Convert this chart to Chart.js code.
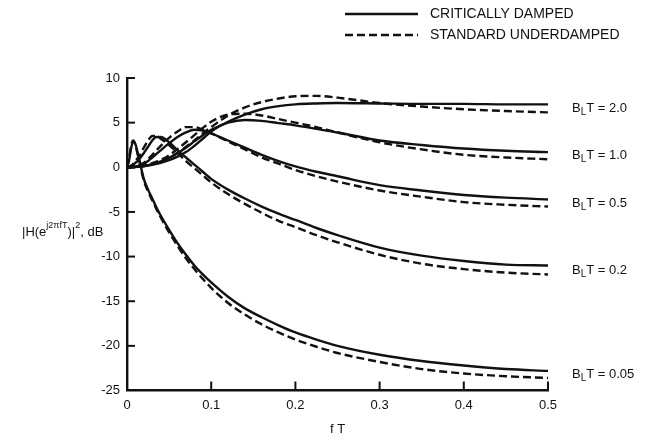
<!DOCTYPE html>
<html>
<head>
<meta charset="UTF-8">
<title>Loop filter response</title>
<script src="https://cdn.jsdelivr.net/npm/chart.js"></script>
<style>
  body { margin: 0; background: #fff; }
  #chart { display: block; }
</style>
</head>
<body>
<canvas id="chart" width="645" height="441"></canvas>
<script>
// normalized frequency grid (fT)
const fT = [0, 0.0025, 0.005, 0.0075, 0.01, 0.0125, 0.015, 0.02, 0.025, 0.03, 0.035, 0.04, 0.05, 0.06, 0.07, 0.08, 0.09, 0.1,
  0.12, 0.14, 0.16, 0.18, 0.2, 0.225, 0.25, 0.3, 0.35, 0.4, 0.45, 0.5];

// |H|^2 in dB, critically damped
const crit2   = [0, 0, 0.01, 0.02, 0.03, 0.05, 0.07, 0.12, 0.2, 0.28, 0.38, 0.5, 0.8, 1.2, 1.7, 2.4, 3.2, 4.0, 5.1, 5.9, 6.5, 6.85, 7.05, 7.15, 7.2, 7.15, 7.1, 7.1, 7.05, 7.05];
const crit1   = [0, 0, 0.01, 0.02, 0.04, 0.06, 0.09, 0.16, 0.25, 0.36, 0.5, 0.65, 1.05, 1.6, 2.2, 2.9, 3.6, 4.2, 5.0, 5.3, 5.2, 4.95, 4.7, 4.3, 3.9, 3.0, 2.5, 2.1, 1.85, 1.7];
const crit05  = [0, 0.01, 0.03, 0.06, 0.1, 0.15, 0.2, 0.4, 0.7, 1.1, 1.5, 1.9, 2.7, 3.4, 3.9, 4.2, 4.1, 3.8, 3.0, 2.2, 1.4, 0.7, 0.1, -0.5, -1.0, -2.0, -2.6, -3.1, -3.4, -3.6];
const crit02  = [0, 0.05, 0.15, 0.3, 0.5, 0.7, 0.95, 1.6, 2.3, 3.0, 3.4, 3.4, 2.8, 1.9, 1.1, 0.3, -0.5, -1.3, -2.5, -3.5, -4.4, -5.2, -5.9, -6.8, -7.6, -9.0, -9.9, -10.5, -10.9, -11.0];
const crit005 = [0, 0.8, 2.2, 2.9, 2.6, 1.7, 0.7, -1.3, -2.5, -3.5, -4.5, -5.4, -7.0, -8.5, -9.8, -11.0, -12.0, -12.9, -14.5, -15.8, -16.8, -17.7, -18.5, -19.3, -20.0, -21.0, -21.7, -22.2, -22.6, -22.8];

// |H|^2 in dB, standard underdamped
const under2   = [0, 0, 0.01, 0.02, 0.04, 0.06, 0.09, 0.15, 0.25, 0.36, 0.48, 0.62, 1.0, 1.6, 2.3, 3.0, 3.8, 4.5, 5.8, 6.7, 7.3, 7.7, 7.95, 8.0, 7.8, 7.2, 6.8, 6.5, 6.3, 6.15];
const under1   = [0, 0, 0.01, 0.03, 0.05, 0.08, 0.11, 0.2, 0.32, 0.46, 0.63, 0.83, 1.35, 2.05, 2.8, 3.6, 4.4, 5.1, 5.9, 6.0, 5.8, 5.4, 5.0, 4.5, 3.9, 2.8, 2.0, 1.4, 1.1, 0.9];
const under05  = [0, 0.01, 0.04, 0.08, 0.14, 0.2, 0.28, 0.5, 0.9, 1.4, 1.9, 2.4, 3.3, 4.0, 4.5, 4.5, 4.2, 3.8, 2.9, 2.0, 1.1, 0.4, -0.3, -1.0, -1.6, -2.6, -3.3, -3.9, -4.2, -4.4];
const under02  = [0, 0.07, 0.2, 0.4, 0.7, 1.0, 1.3, 2.2, 3.0, 3.5, 3.5, 3.2, 2.5, 1.6, 0.7, -0.1, -0.9, -1.7, -3.0, -4.1, -5.1, -6.0, -6.7, -7.6, -8.4, -9.8, -10.8, -11.4, -11.8, -12.0];
const under005 = [0, 1.0, 2.5, 3.0, 2.5, 1.5, 0.5, -1.5, -2.7, -3.7, -4.7, -5.6, -7.3, -8.8, -10.2, -11.4, -12.5, -13.5, -15.2, -16.5, -17.6, -18.5, -19.3, -20.1, -20.8, -21.8, -22.6, -23.1, -23.4, -23.6];

const loopLabels = ['2.0', '1.0', '0.5', '0.2', '0.05'];
const critical = [crit2, crit1, crit05, crit02, crit005];
const underdamped = [under2, under1, under05, under02, under005];

const xTicks = [0, 0.1, 0.2, 0.3, 0.4, 0.5];
const yTicks = [10, 5, 0, -5, -10, -15, -20, -25];

const ink = '#111';
const font = '"Liberation Sans", Arial, Helvetica, sans-serif';

function toPoints(arr) {
  return fT.map((x, i) => ({ x, y: arr[i] }));
}

const datasets = [];
critical.forEach((arr, i) => datasets.push({
  label: 'critical ' + loopLabels[i], data: toPoints(arr),
  borderColor: ink, borderWidth: 2.4, pointRadius: 0, cubicInterpolationMode: 'monotone'
}));
underdamped.forEach((arr, i) => datasets.push({
  label: 'under ' + loopLabels[i], data: toPoints(arr),
  borderColor: ink, borderWidth: 2.4, borderDash: [8, 4], pointRadius: 0, cubicInterpolationMode: 'monotone'
}));

function line(ctx, x1, y1, x2, y2) {
  ctx.beginPath(); ctx.moveTo(x1, y1); ctx.lineTo(x2, y2); ctx.stroke();
}

// text runs: [text, size, dy]
function runs(ctx, x, y, parts) {
  parts.forEach(([t, size, dy]) => {
    ctx.font = size + 'px ' + font;
    ctx.fillText(t, x, y + dy);
    x += ctx.measureText(t).width;
  });
}

const overlay = {
  id: 'overlay',
  afterDraw(chart) {
    const { ctx, chartArea: a, scales: { x, y } } = chart;
    ctx.save();
    ctx.strokeStyle = ink;
    ctx.fillStyle = ink;
    ctx.lineWidth = 2;

    // inward ticks
    yTicks.forEach(v => {
      const py = y.getPixelForValue(v);
      if (v !== -25) line(ctx, a.left, py, a.left + 8, py);
    });
    xTicks.forEach(v => {
      if (v === 0) return;
      const px = x.getPixelForValue(v);
      line(ctx, px, a.bottom, px, a.bottom - 9);
    });

    // legend
    ctx.lineWidth = 2.4;
    line(ctx, 345, 14, 418, 14);
    ctx.setLineDash([8, 4]);
    line(ctx, 345, 35, 418, 35);
    ctx.setLineDash([]);
    ctx.textBaseline = 'middle';
    ctx.textAlign = 'left';
    ctx.font = '14px ' + font;
    ctx.fillText('CRITICALLY DAMPED', 430, 14);
    ctx.fillText('STANDARD UNDERDAMPED', 430, 35);

    // curve labels at the right
    loopLabels.forEach((lab, i) => {
      const c = critical[i], u = underdamped[i];
      const py = (y.getPixelForValue(c[c.length - 1]) + y.getPixelForValue(u[u.length - 1])) / 2;
      runs(ctx, 572, py, [['B', 13, 0], ['L', 10, 4], ['T = ' + lab, 13, 0]]);
    });

    // axis titles
    runs(ctx, 22, 232, [['|H(e', 13, 0], ['j2\u03C0fT', 9, -6], [')|', 13, 0], ['2', 9, -6], [', dB', 13, 0]]);
    ctx.textAlign = 'center';
    ctx.font = '13px ' + font;
    ctx.fillText('f T', (a.left + a.right) / 2, 429);
    ctx.restore();
  }
};

new Chart(document.getElementById('chart'), {
  type: 'line',
  data: { datasets },
  options: {
    responsive: false,
    animation: false,
    layout: { padding: { top: 78, right: 97, left: 0, bottom: 0 } },
    plugins: { legend: { display: false }, tooltip: { enabled: false } },
    scales: {
      x: {
        type: 'linear', min: 0, max: 0.5,
        afterBuildTicks: s => { s.ticks = xTicks.map(v => ({ value: v })); },
        afterFit: s => { s.height = 50.5; },
        grid: { display: false, drawTicks: false },
        border: { display: true, color: ink, width: 2.4 },
        ticks: {
          color: ink, padding: 7, maxRotation: 0, autoSkip: false,
          font: { family: font, size: 13 },
          callback: v => v === 0 ? '0' : v.toFixed(1)
        }
      },
      y: {
        type: 'linear', min: -25, max: 10,
        afterBuildTicks: s => { s.ticks = yTicks.map(v => ({ value: v })); },
        afterFit: s => { s.width = 127; },
        grid: { display: false, drawTicks: false },
        border: { display: true, color: ink, width: 2.4 },
        ticks: { color: ink, padding: 7, font: { family: font, size: 13 } }
      }
    }
  },
  plugins: [overlay]
});
</script>
</body>
</html>
